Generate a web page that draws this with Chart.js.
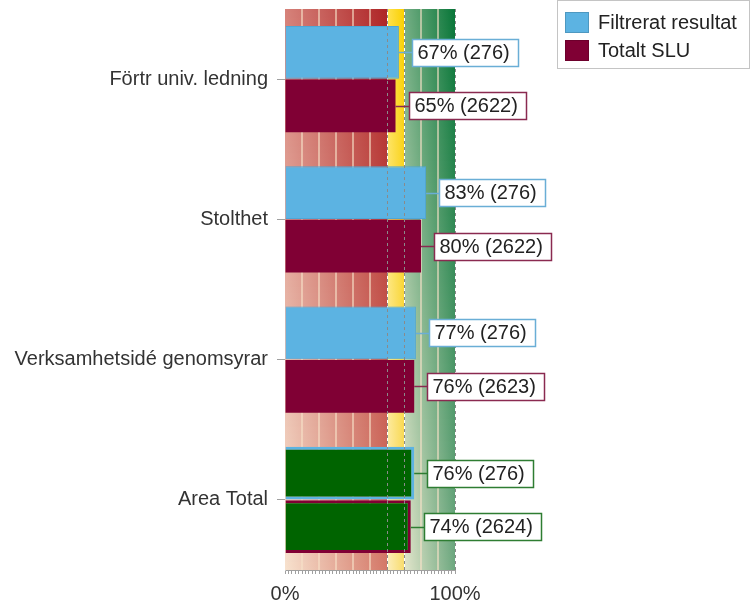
<!DOCTYPE html>
<html>
<head>
<meta charset="utf-8">
<script src="https://cdn.jsdelivr.net/npm/chart.js@4.4.0/dist/chart.umd.min.js"></script>
<style>
    html, body { margin: 0; padding: 0; background: #fff; }
</style>
</head>
<body>
<canvas id="chart" width="751" height="603"></canvas>
<script>
const categories = ['Förtr univ. ledning', 'Stolthet', 'Verksamhetsidé genomsyrar', 'Area Total'];
const filtreratValues = [67, 83, 77, 76];
const filtreratCounts = [276, 276, 276, 276];
const totaltValues = [65, 80, 76, 74];
const totaltCounts = [2622, 2622, 2623, 2624];
const xTickLabels = ['0%', '100%'];
const zoneLimits = [0, 60, 70, 100];

const BLUE = '#5cb3e2';
const RED = '#800034';
const GREEN = '#006400';
const FONT = '"Liberation Sans", Arial, sans-serif';

// zone colours: [left top, right top, left bottom, right bottom]
const zoneColors = [
    [[214, 130, 122], [174, 36, 38], [247, 226, 206], [212, 120, 104]],
    [[255, 226, 80], [250, 208, 0], [252, 238, 190], [248, 220, 110]],
    [[116, 174, 132], [8, 118, 56], [228, 230, 204], [110, 168, 128]]
];

function mix(a, b, t) {
    return 'rgb(' + a.map((v, k) => Math.round(v + (b[k] - v) * t)).join(',') + ')';
}

const zonePlugin = {
    id: 'zones',
    beforeDatasetsDraw(chart) {
        const { ctx, chartArea: a, scales: { x } } = chart;
        ctx.save();
        for (let y = a.top; y < a.bottom; y++) {
            const t = (y - a.top) / (a.bottom - a.top);
            for (let z = 0; z < 3; z++) {
                const x0 = x.getPixelForValue(zoneLimits[z]);
                const x1 = x.getPixelForValue(zoneLimits[z + 1]);
                const c = zoneColors[z];
                const g = ctx.createLinearGradient(x0, 0, x1, 0);
                g.addColorStop(0, mix(c[0], c[2], t));
                g.addColorStop(1, mix(c[1], c[3], t));
                ctx.fillStyle = g;
                ctx.fillRect(x0, y, x1 - x0, 1);
            }
        }
        // light grid every 10%
        ctx.strokeStyle = 'rgba(248, 226, 200, 0.8)';
        ctx.lineWidth = 1.5;
        for (let v = 10; v < 100; v += 10) {
            if (v === 60 || v === 70) continue;
            const px = Math.round(x.getPixelForValue(v));
            ctx.beginPath();
            ctx.moveTo(px, a.top);
            ctx.lineTo(px, a.bottom);
            ctx.stroke();
        }
        ctx.lineWidth = 1;
        ctx.strokeStyle = '#ffffff';
        [60, 70].forEach(v => {
            const px = Math.round(x.getPixelForValue(v)) + 0.5;
            ctx.beginPath();
            ctx.moveTo(px, a.top);
            ctx.lineTo(px, a.bottom);
            ctx.stroke();
        });
        ctx.restore();
    },
    afterDatasetsDraw(chart) {
        const { ctx, chartArea: a, scales: { x } } = chart;
        ctx.save();
        ctx.strokeStyle = '#8a8a8a';
        ctx.lineWidth = 1;
        ctx.setLineDash([3, 3]);
        [60, 70, 100].forEach(v => {
            const px = Math.round(x.getPixelForValue(v)) + 0.5;
            ctx.beginPath();
            ctx.moveTo(px, a.top);
            ctx.lineTo(px, a.bottom);
            ctx.stroke();
        });
        ctx.restore();
    }
};

const labelPlugin = {
    id: 'valueLabels',
    afterDatasetsDraw(chart) {
        const ctx = chart.ctx;
        ctx.save();
        ctx.font = '20px ' + FONT;
        ctx.textBaseline = 'middle';
        chart.data.datasets.forEach((ds, di) => {
            chart.getDatasetMeta(di).data.forEach((bar, i) => {
                const text = ds.data[i] + '% (' + ds.counts[i] + ')';
                const color = i === categories.length - 1 ? '#2e7d32' : ds.labelBorder;
                const w = Math.round(ctx.measureText(text).width) + 14;
                const h = 27;
                const x0 = Math.round(bar.x + 13) + 0.5;
                const y0 = Math.round(bar.y - h / 2) + 0.5;
                ctx.strokeStyle = color;
                ctx.lineWidth = 1.5;
                ctx.beginPath();
                ctx.moveTo(bar.x, Math.round(bar.y) + 0.5);
                ctx.lineTo(x0, Math.round(bar.y) + 0.5);
                ctx.stroke();
                ctx.fillStyle = '#fff';
                ctx.fillRect(x0, y0, w, h);
                ctx.strokeRect(x0, y0, w, h);
                ctx.fillStyle = '#222';
                ctx.fillText(text, x0 + 5, bar.y + 1);
            });
        });
        ctx.restore();
    }
};

const legendPlugin = {
    id: 'boxLegend',
    afterDraw(chart) {
        const ctx = chart.ctx;
        ctx.save();
        ctx.strokeStyle = '#c4c4c4';
        ctx.lineWidth = 1;
        ctx.strokeRect(557.5, 0.5, 192, 68);
        ctx.font = '20px ' + FONT;
        ctx.textBaseline = 'middle';
        chart.data.datasets.forEach((ds, i) => {
            const y = 12 + i * 28;
            ctx.fillStyle = ds.swatch;
            ctx.fillRect(565, y, 24, 21);
            ctx.strokeStyle = 'rgba(0,0,0,0.15)';
            ctx.strokeRect(565.5, y + 0.5, 23, 20);
            ctx.fillStyle = '#222';
            ctx.fillText(ds.label, 598, y + 11);
        });
        ctx.restore();
    }
};

const lastIndex = categories.length - 1;

new Chart(document.getElementById('chart'), {
    type: 'bar',
    data: {
        labels: categories,
        datasets: [
            {
                label: 'Filtrerat resultat',
                data: filtreratValues,
                counts: filtreratCounts,
                swatch: BLUE,
                labelBorder: '#6aaed6',
                backgroundColor: ctx => ctx.dataIndex === lastIndex ? GREEN : BLUE,
                borderColor: ctx => ctx.dataIndex === lastIndex ? BLUE : '#4fa6d6',
                borderWidth: ctx => ctx.dataIndex === lastIndex ? 3 : 1
            },
            {
                label: 'Totalt SLU',
                data: totaltValues,
                counts: totaltCounts,
                swatch: RED,
                labelBorder: '#8a2a50',
                backgroundColor: ctx => ctx.dataIndex === lastIndex ? GREEN : RED,
                borderColor: RED,
                borderWidth: ctx => ctx.dataIndex === lastIndex ? 3 : 0
            }
        ]
    },
    options: {
        indexAxis: 'y',
        responsive: false,
        animation: false,
        categoryPercentage: 0.76,
        barPercentage: 0.99,
        layout: { padding: { top: 9, right: 296, left: 0, bottom: 0 } },
        plugins: {
            legend: { display: false },
            tooltip: { enabled: false }
        },
        scales: {
            x: {
                min: 0,
                max: 100,
                afterFit: s => { s.height = 33; s.paddingLeft = 0; s.paddingRight = 0; },
                ticks: {
                    stepSize: 2,
                    autoSkip: false,
                    maxRotation: 0,
                    padding: 8,
                    color: '#333',
                    font: { size: 20, family: FONT },
                    callback: v => v === 0 ? xTickLabels[0] : (v === 100 ? xTickLabels[1] : '')
                },
                grid: { drawOnChartArea: false, tickLength: 4, color: '#a0a0a0' },
                border: { color: '#a0a0a0' }
            },
            y: {
                afterFit: s => { s.width = 285; s.paddingTop = 0; s.paddingBottom = 0; },
                ticks: {
                    padding: 9,
                    color: '#333',
                    font: { size: 20, family: FONT }
                },
                grid: { drawOnChartArea: false, offset: false, tickLength: 8, color: '#a0a0a0' },
                border: { color: '#c8c8c8' }
            }
        }
    },
    plugins: [zonePlugin, labelPlugin, legendPlugin]
});
</script>
</body>
</html>
